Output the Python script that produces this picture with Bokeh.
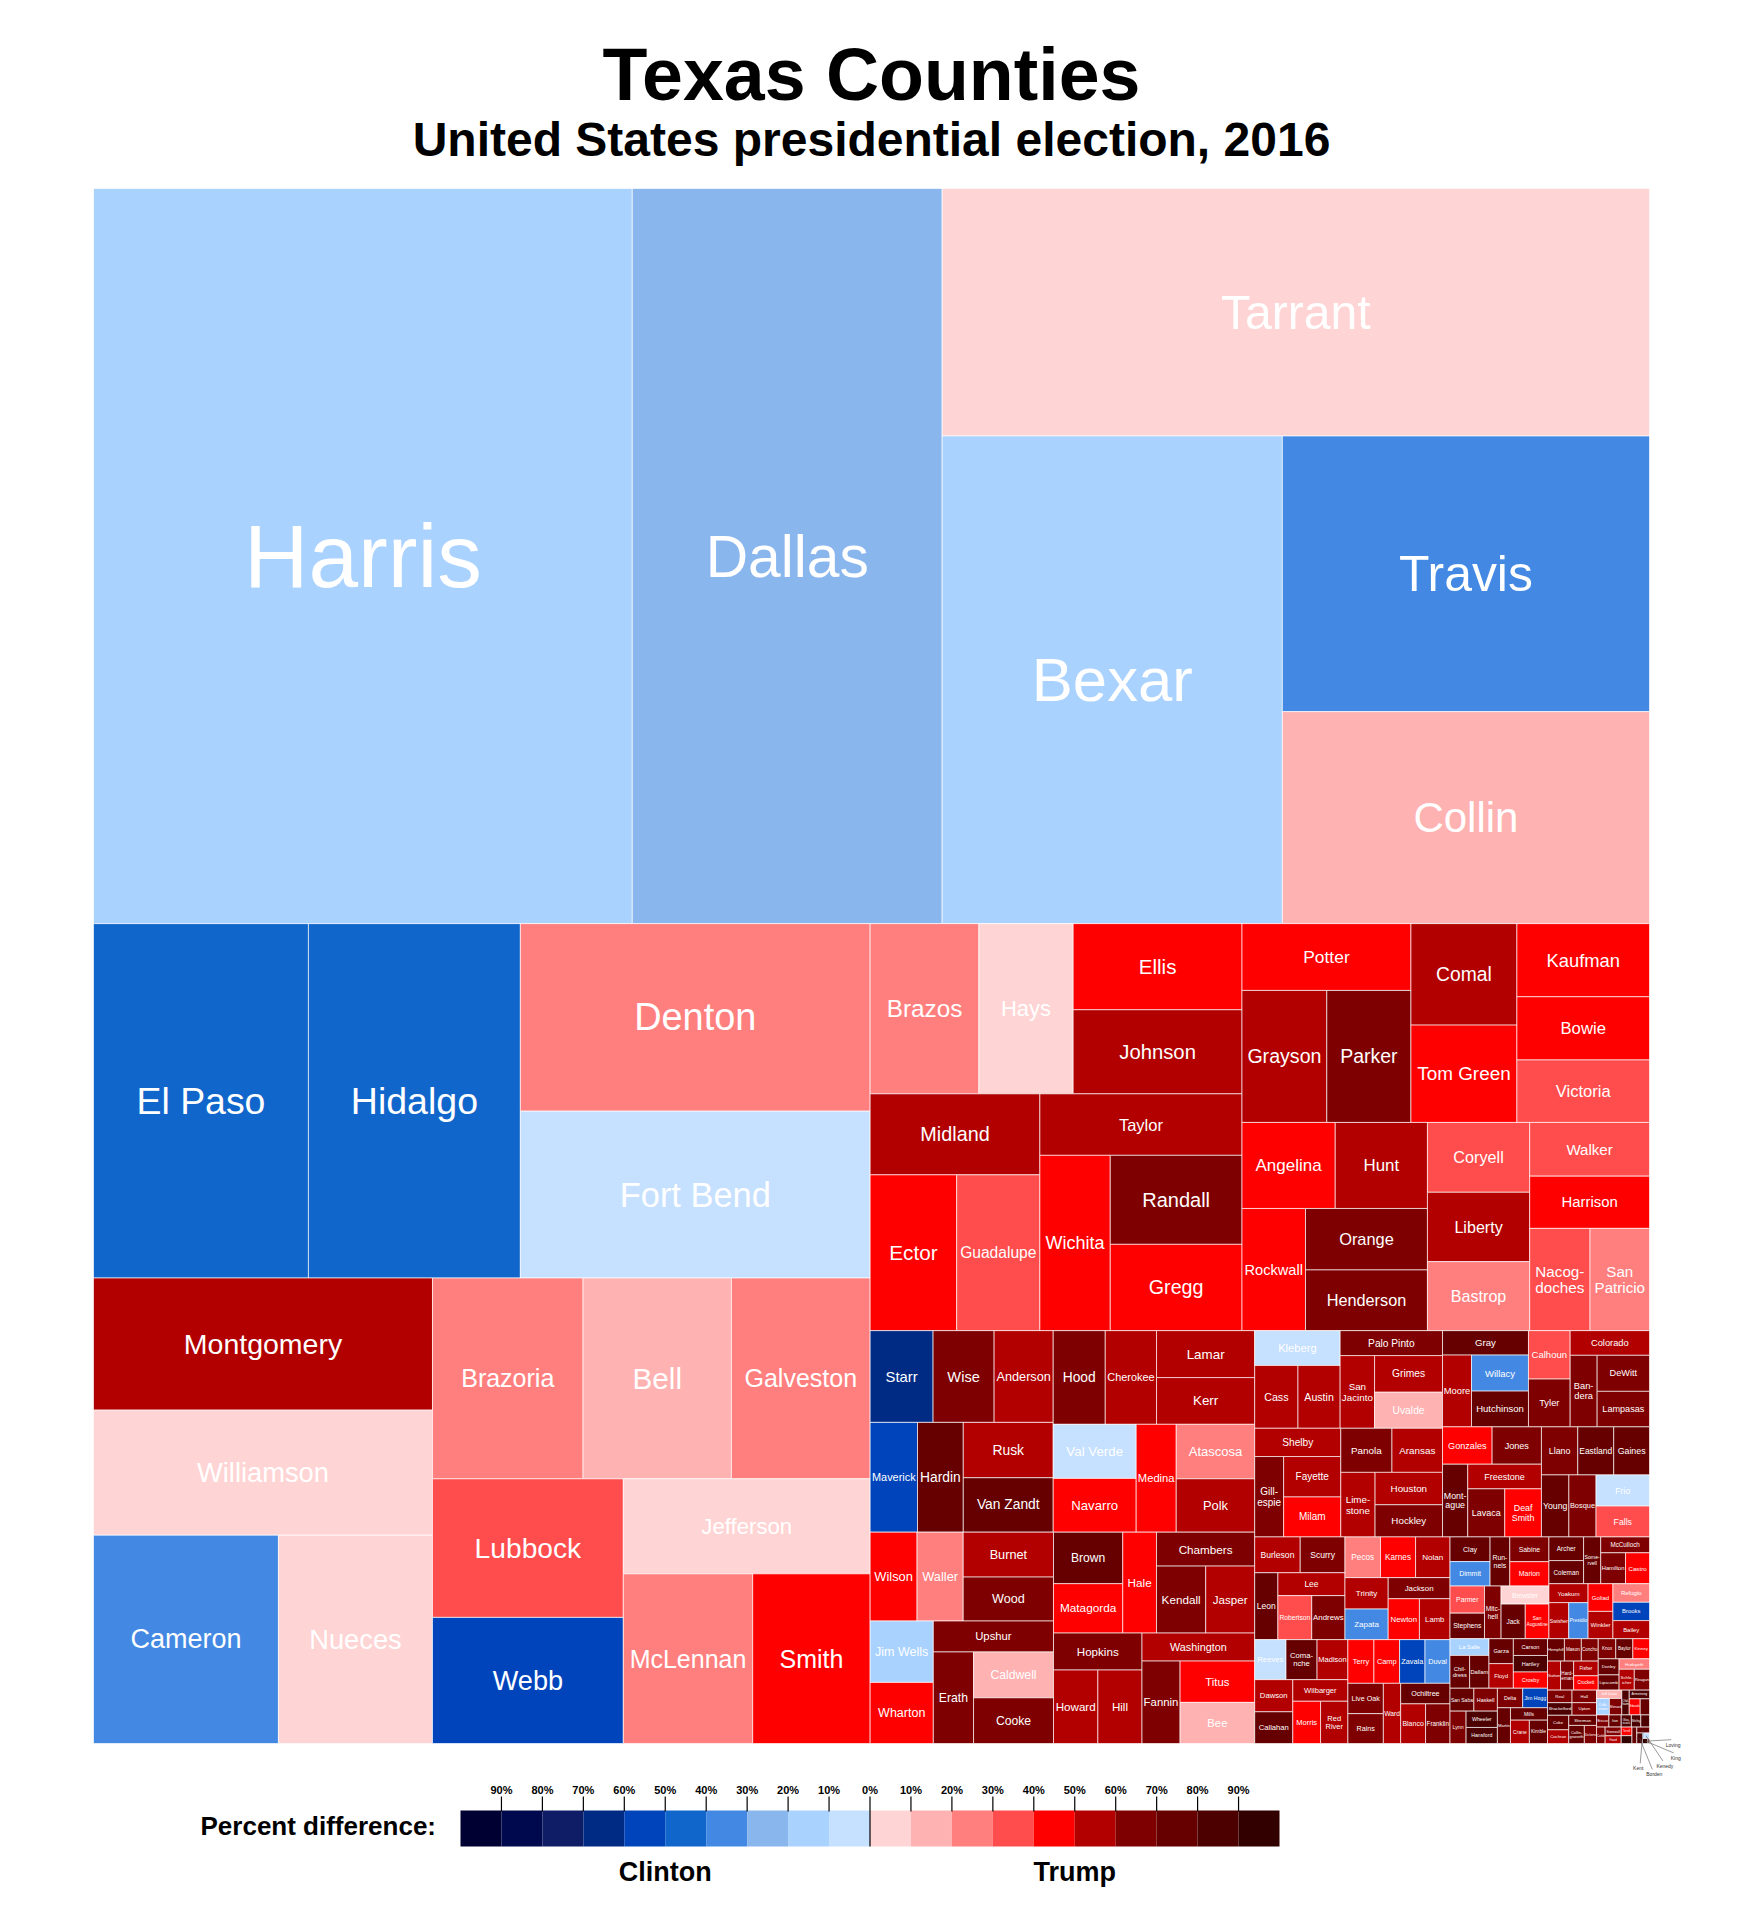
import math
from bokeh.plotting import figure
from bokeh.models import ColumnDataSource, Range1d
from bokeh.core.properties import value, field
from bokeh.embed import file_html
from bokeh.resources import INLINE

TITLE = "Texas Counties"
SUBTITLE = "United States presidential election, 2016"

# Counties in drawing order (largest first); sizes
# (roughly population in thousands), margins = Trump % minus Clinton %.
counties = [
    "Harris", "Dallas", "Tarrant", "Bexar", "Travis", "Collin",
    "El Paso", "Hidalgo", "Denton", "Fort Bend", "Montgomery", "Williamson", "Cameron", "Nueces",
    "Brazoria", "Bell", "Galveston", "Lubbock", "Webb", "Jefferson", "McLennan", "Smith",
    "Brazos", "Hays", "Ellis", "Johnson", "Midland", "Ector", "Guadalupe", "Taylor", "Wichita", "Randall", "Gregg",
    "Potter", "Grayson", "Parker", "Comal", "Tom Green", "Kaufman", "Bowie", "Victoria",
    "Angelina", "Hunt", "Rockwall", "Orange", "Henderson", "Coryell", "Liberty", "Bastrop",
    "Walker", "Harrison", "Nacogdoches", "San Patricio",
    "Starr", "Wise", "Anderson", "Maverick", "Hardin", "Rusk", "Van Zandt", "Hood",
    "Cherokee", "Lamar", "Kerr", "Val Verde", "Navarro", "Medina", "Atascosa", "Polk",
    "Wilson", "Waller", "Burnet", "Wood", "Jim Wells", "Wharton", "Upshur", "Erath", "Caldwell", "Cooke",
    "Brown", "Matagorda", "Hale", "Chambers", "Kendall", "Jasper",
    "Hopkins", "Howard", "Hill", "Washington", "Fannin", "Titus", "Bee",
    "Kleberg", "Cass", "Austin", "Palo Pinto", "San Jacinto", "Grimes", "Uvalde",
    "Shelby", "Gillespie", "Fayette", "Milam", "Panola", "Aransas", "Limestone", "Houston", "Hockley",
    "Gray", "Moore", "Willacy", "Hutchinson", "Calhoun", "Tyler", "Colorado", "Bandera", "DeWitt", "Lampasas",
    "Gonzales", "Jones", "Montague", "Freestone", "Lavaca", "Deaf Smith",
    "Llano", "Eastland", "Gaines", "Young", "Bosque", "Frio", "Falls",
    "Burleson", "Scurry", "Leon", "Lee", "Robertson", "Andrews",
    "Pecos", "Karnes", "Nolan", "Trinity", "Zapata", "Jackson", "Newton", "Lamb",
    "Reeves", "Comanche", "Madison", "Dawson", "Callahan", "Wilbarger", "Morris", "Red River",
    "Terry", "Camp", "Zavala", "Duval", "Live Oak", "Rains", "Ward", "Ochiltree", "Blanco", "Franklin",
    "Clay", "Dimmit", "Runnels", "Sabine", "Marion", "Parmer", "Stephens", "Mitchell", "Brewster", "Jack", "San Augustine",
    "Archer", "Coleman", "Somervell", "McCulloch", "Hamilton", "Castro", "Yoakum", "Swisher", "Presidio", "Goliad", "Winkler", "Refugio", "Brooks", "Bailey",
    "La Salle", "Childress", "Dallam", "Garza", "Floyd", "Carson", "Hartley", "Crosby",
    "San Saba", "Haskell", "Lynn", "Wheeler", "Hansford", "Delta", "Jim Hogg", "Martin", "Mills", "Crane", "Kimble",
    "Hemphill", "Mason", "Concho", "Sutton", "Hardeman", "Fisher", "Crockett", "Knox", "Baylor", "Kinney", "Donley",
    "Lipscomb", "Hudspeth", "Schleicher", "Reagan", "Real", "Shackelford", "Hall", "Upton", "Coke",
    "Cochran", "Sherman", "Collingsworth", "Dickens", "Jeff Davis", "Culberson", "Menard",
    "Oldham", "Armstrong", "Edwards", "Throckmorton", "Briscoe", "Irion", "Cottle", "Stonewall",
    "Foard", "Glasscock", "Motley", "Sterling", "Terrell", "Roberts", "McMullen", "Kent", "Borden", "Kenedy", "King", "Loving",
]

sizes = [
    4493, 2584, 1986, 1882, 1148, 883,
    864, 852, 744, 662, 508, 481, 437, 364,
    343, 338, 316, 300, 273, 266, 249, 226,
    210, 182, 165, 161, 156, 153, 147, 141, 140, 133, 129,
    128, 127, 126, 122, 117, 110, 95, 94,
    91, 90, 88, 85, 84, 81, 80.5, 80,
    73, 71, 70, 69,
    65.5, 63.5, 61.5, 59, 57, 56.5, 55.5, 55.3,
    54.5, 52.3, 52.0, 50.9, 50.6, 49, 48.5, 47.5,
    47.3, 46.5, 46, 45, 44, 43.8, 42.2, 41.8, 41.6, 41.4,
    40.5, 38.8, 38.6, 37.8, 37.4, 37.2,
    37.1, 37.0, 36.8, 35.8, 35.6, 35.0, 34.8,
    33.8, 30.8, 30.0, 29.0, 28.4, 28.2, 27.8,
    27.6, 26.4, 26.2, 25.9, 25.6, 25.3, 25.1, 24.8, 24.6,
    23.8, 23.6, 23.3, 23.1, 22.9, 22.6, 22.2, 21.9, 21.4, 21.1,
    21.0, 20.9, 20.8, 20.6, 20.2, 20.0,
    19.8, 19.6, 19.5, 19.3, 19.1, 18.9, 18.7,
    18.5, 18.2, 17.6, 17.4, 16.9, 16.6,
    16.4, 16.2, 15.9, 15.4, 15.0, 14.8, 14.5, 14.2,
    14.2, 14.1, 14.0, 13.9, 13.7, 13.5, 13.3, 13.1,
    12.9, 12.7, 12.6, 12.4, 12.2, 12.0, 11.8, 11.5, 11.2, 11.0,
    11.2, 11.1, 11.0, 11.0, 10.8, 10.6, 10.0, 9.9, 9.8, 9.5, 9.3,
    9.3, 9.1, 9.1, 8.8, 8.7, 8.4, 8.4, 8.1, 7.9, 7.8, 7.7, 7.7, 7.6, 7.5,
    7.4, 7.3, 7.2, 6.9, 6.8, 6.5, 6.4, 6.3,
    6.2, 6.1, 5.9, 5.8, 5.7, 5.6, 5.5, 5.3, 5.2, 5.0, 4.8,
    4.3, 4.3, 4.3, 4.3, 4.3, 4.1, 4.0, 4.0, 3.9, 3.8, 3.8,
    3.6, 3.6, 3.6, 3.6, 3.5, 3.5, 3.5, 3.5, 3.5,
    3.3, 3.2, 3.2, 2.5, 2.4, 2.4, 2.3,
    2.1, 2.0, 2.0, 1.7, 1.7, 1.7, 1.6, 1.6,
    1.4, 1.4, 1.3, 1.2, 1.05, 0.95, 0.9, 0.85, 0.68, 0.44, 0.31, 0.085,
]

margins = [
    -12.3, -26.1, 8.6, -13.4, -38.6, 16.7,
    -43.0, -40.5, 20.0, -6.6, 50.8, 9.8, -32.4, 3.1,
    22.9, 15.5, 26.2, 35.4, -50.6, 0.5, 27.9, 42.9,
    22.6, 1.4, 43.1, 56.5, 56.2, 42.9, 32.3, 51.2, 43.5, 64.3, 41.0,
    41.3, 53.0, 66.6, 51.7, 44.7, 44.3, 44.1, 34.0,
    45.8, 57.1, 43.3, 62.7, 62.6, 37.3, 58.0, 20.8,
    30.7, 43.6, 32.4, 28.9,
    -60.5, 68.0, 56.4, -55.0, 72.3, 55.9, 70.5, 65.9,
    56.6, 55.3, 53.8, -4.7, 47.8, 45.9, 29.5, 55.1,
    47.5, 26.9, 56.3, 67.0, -11.0, 47.1, 66.6, 66.3, 10.3, 66.4,
    71.7, 43.8, 47.4, 64.9, 61.6, 58.1,
    60.2, 56.7, 59.2, 52.4, 63.0, 44.9, 18.3,
    -1.5, 59.2, 57.0, 64.5, 53.3, 51.6, 16.9,
    58.3, 61.5, 57.2, 44.0, 63.2, 52.5, 56.8, 52.3, 61.9,
    74.1, 59.4, -35.1, 71.9, 37.9, 65.4, 56.4, 66.6, 62.3, 61.8,
    44.0, 67.9, 74.3, 57.8, 68.4, 45.0,
    63.9, 72.7, 75.7, 74.8, 64.1, -3.6, 37.6,
    56.5, 66.6, 72.7, 52.6, 34.9, 69.3,
    26.6, 44.5, 56.1, 54.2, -32.9, 66.8, 48.0, 58.0,
    -7.0, 70.5, 59.9, 59.4, 73.5, 59.1, 42.2, 54.3,
    47.9, 48.1, -57.2, -37.0, 67.4, 68.5, 51.0, 75.9, 51.2, 64.2,
    73.5, -32.6, 74.3, 67.0, 46.0, 35.0, 75.6, 68.6, 6.6, 78.1, 45.4,
    78.2, 75.9, 71.7, 68.8, 67.5, 43.8, 58.0, 55.0, -32.1, 47.4, 55.0, 23.9, -51.5, 54.7,
    -11.0, 72.0, 70.4, 70.1, 57.1, 79.7, 81.6, 41.5,
    75.6, 68.0, 63.5, 83.4, 82.0, 66.7, -57.0, 74.0, 79.8, 59.1, 76.3,
    75.2, 62.4, 65.2, 56.6, 69.4, 58.6, 41.4, 60.2, 75.4, 43.0, 71.7,
    78.0, 26.9, 55.6, 63.3, 67.0, 82.3, 63.1, 62.5, 78.5,
    54.5, 74.1, 73.4, 67.2, 17.6, -16.9, 63.0,
    80.4, 83.1, 48.0, 79.0, 64.2, 72.4, 66.4, 63.3,
    56.3, 86.8, 81.8, 83.6, 47.5, 90.5, 79.6, 78.3, 87.9, -6.0, 90.9, 83.2,
]

assert len(counties) == len(sizes) == len(margins), (len(counties), len(sizes), len(margins))

# colour bins, 0-10 %, 10-20 %, ... 90 %+
clinton_colors = ["#c6e0ff", "#a9d2ff", "#8ab6ee", "#4389e3", "#1166cc",
                  "#0044bb", "#002b84", "#0f1c66", "#00094d", "#000033"]
trump_colors = ["#ffd4d4", "#ffb2b2", "#ff7f7f", "#ff4c4c", "#ff0000",
                "#b20000", "#7f0000", "#660000", "#4c0000", "#330000"]
tick_labels = ["90%", "80%", "70%", "60%", "50%", "40%", "30%", "20%", "10%", "0%",
               "10%", "20%", "30%", "40%", "50%", "60%", "70%", "80%", "90%"]

# ---------------- geometry (page pixel coordinates) ----------------
W, H = 1726, 1904
TX0, TY0, TX1, TY1 = 93.0, 188.0, 1649.0, 1743.0
SPLIT_RATIO = 1.06
FONT = "Liberation Sans"


def layout(vals, x0, y0, x1, y1, ratio):
    n = len(vals)
    cum = [0.0]
    for v in vals:
        cum.append(cum[-1] + v)
    rects = [None] * n

    def part(i, j, ax, ay, bx, by):
        if j - i == 1:
            rects[i] = (ax, ay, bx, by)
            return
        total = cum[j] - cum[i]
        half = total / 2.0
        k = i + 1
        while k + 1 < j and cum[k + 1] - cum[i] <= half:
            k += 1
        frac = (cum[k] - cum[i]) / total
        w, h = bx - ax, by - ay
        if w > ratio * h:
            xm = ax + w * frac
            part(i, k, ax, ay, xm, by)
            part(k, j, xm, ay, bx, by)
        else:
            ym = ay + h * frac
            part(i, k, ax, ay, bx, ym)
            part(k, j, ax, ym, bx, by)

    part(0, n, x0, y0, x1, y1)
    return rects


def color_of(m):
    b = min(int(abs(m) // 10), 9)
    return trump_colors[b] if m > 0 else clinton_colors[b]


WID = dict(zip("ABCDEFGHIJKLMNOPQRSTUVWXYZ",
               [667, 667, 722, 722, 667, 611, 778, 722, 278, 500, 667, 556, 833, 722, 778, 667, 778, 722, 667, 611, 722, 667, 944, 667, 667, 611]))
WID.update(dict(zip("abcdefghijklmnopqrstuvwxyz",
                    [556, 556, 500, 556, 556, 278, 556, 556, 222, 222, 500, 222, 833, 556, 556, 556, 556, 333, 500, 278, 556, 500, 722, 500, 500, 500])))
WID.update({" ": 278, "-": 333, ".": 278})


def em(s):
    return sum(WID.get(c, 556) for c in s) / 1000.0


def label_for(name, w, h):
    s = math.sqrt(max(w * h, 0.01))
    natural = min(11.7 * (s / 57.7) ** 0.85, 0.17 * min(w, h) + 6)
    hard = min(natural, 0.92 * w / em(name), 0.75 * h)
    if " " in name:
        a, b = name.split(" ", 1)
        lines2 = [a, b]
    elif len(name) >= 6:
        m = len(name) // 2
        lines2 = [name[:m] + "-", name[m:]]
    else:
        lines2 = None
    if lines2:
        f2 = min(natural, 0.9 * w / max(em(l) for l in lines2), 0.4 * h)
        if f2 > 1.3 * hard:
            return lines2, f2
    soft = max(0.6 * w / em(name), 25.0)
    return [name], min(hard, soft)


rects = layout(sizes, TX0, TY0, TX1, TY1, SPLIT_RATIO)

cells = dict(left=[], right=[], top=[], bottom=[], fill=[], name=[])
labels = dict(x=[], y=[], t=[], fs=[])
tiny = []
for name, m, v, (x0, y0, x1, y1) in zip(counties, margins, sizes, rects):
    cells["left"].append(x0)
    cells["right"].append(x1)
    cells["top"].append(y0)
    cells["bottom"].append(y1)
    cells["fill"].append(color_of(m))
    cells["name"].append(name)
    w, h = x1 - x0, y1 - y0
    if v < 0.88:
        tiny.append((name, (x0 + x1) / 2, (y0 + y1) / 2))
        continue
    lines, f = label_for(name, w, h)
    if f < 2.5:
        continue
    cx, cy = (x0 + x1) / 2, (y0 + y1) / 2
    offs = [0.0] if len(lines) == 1 else [-0.55 * f, 0.55 * f]
    for line, o in zip(lines, offs):
        labels["x"].append(cx)
        labels["y"].append(cy + o)
        labels["t"].append(line)
        labels["fs"].append("%.1fpx" % f)

p = figure(width=W, height=H,
           x_range=Range1d(0, W), y_range=Range1d(H, 0),
           output_backend="svg", toolbar_location=None,
           x_axis_location=None, y_axis_location=None, min_border=0)
p.grid.visible = False
p.outline_line_color = None
p.background_fill_color = "white"
p.border_fill_color = "white"

p.quad(left="left", right="right", top="top", bottom="bottom",
       fill_color="fill", line_color="white", line_width=1, line_alpha=0.65,
       source=ColumnDataSource(cells))

p.text(x="x", y="y", text="t", source=ColumnDataSource(labels),
       text_font=value(FONT), text_font_size=field("fs"), text_color="white",
       text_align="center", text_baseline="middle")

# leader labels for the smallest counties
fan = list(reversed(tiny))
lx, ly, lt, sx0, sy0, sx1, sy1 = [], [], [], [], [], [], []
for i, (name, cx, cy) in enumerate(fan):
    ang = math.radians(-10 + i * 125.0 / max(len(fan) - 1, 1))
    r = 22 + 4 * (i % 2)
    ex, ey = TX1 + r * math.cos(ang), TY1 + r * math.sin(ang)
    sx0.append(cx); sy0.append(cy); sx1.append(ex); sy1.append(ey)
    lx.append(ex + (2 if math.cos(ang) >= 0 else -2)); ly.append(ey + 2); lt.append(name)
p.segment(x0=sx0, y0=sy0, x1=sx1, y1=sy1, line_color="#555555", line_width=0.6)
p.text(x=lx, y=ly, text=lt, text_font=value(FONT), text_font_size="5px",
       text_color="#333333", text_align="center", text_baseline="top")


def baseline_text(x, base_y, txt, size, align="center"):
    # 'middle' baseline; shift so the alphabetic baseline lands on base_y
    p.text(x=[x], y=[base_y - 0.36 * size], text=[txt], text_font=value(FONT),
           text_font_style="bold", text_font_size="%.1fpx" % size, text_color="black",
           text_align=align, text_baseline="middle")


# titles
baseline_text((TX0 + TX1) / 2, 100, TITLE, 73.5)
baseline_text((TX0 + TX1) / 2, 156, SUBTITLE, 48)

# legend
LX0, LX1, LY0, LY1 = 460.0, 1279.0, 1810.0, 1846.0
leg_colors = list(reversed(clinton_colors)) + trump_colors
cw = (LX1 - LX0) / len(leg_colors)
p.quad(left=[LX0 + i * cw for i in range(len(leg_colors))],
       right=[LX0 + (i + 1) * cw for i in range(len(leg_colors))],
       top=[LY0] * len(leg_colors), bottom=[LY1] * len(leg_colors),
       fill_color=leg_colors, line_color=None)
tx = [LX0 + (b + 1) * cw for b in range(len(tick_labels))]
ty1 = [LY1 if lab == "0%" else LY0 + 1 for lab in tick_labels]
p.segment(x0=tx, y0=[1796] * len(tx), x1=tx, y1=ty1, line_color="black", line_width=1.2)
p.text(x=tx, y=[1793 - 0.36 * 11] * len(tx), text=tick_labels, text_font=value(FONT),
       text_font_style="bold", text_font_size="11px", text_color="black",
       text_align="center", text_baseline="middle")
baseline_text(200, 1835, "Percent difference:", 26, align="left")
baseline_text((LX0 + LX0 + 10 * cw) / 2, 1881, "Clinton", 27)
baseline_text((LX0 + 10 * cw + LX1) / 2, 1881, "Trump", 27)

open("out.html", "w").write(file_html(p, INLINE))
